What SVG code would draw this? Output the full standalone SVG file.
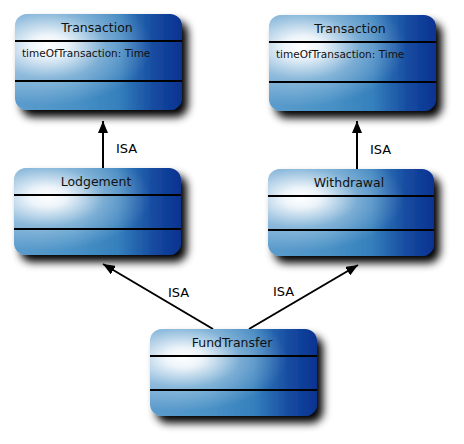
<svg xmlns="http://www.w3.org/2000/svg" width="464" height="444" viewBox="0 0 464 444">
<defs>
<linearGradient id="base" x1="0" y1="0" x2="1" y2="0">
<stop offset="0" stop-color="#5c9ccd"/>
<stop offset="0.35" stop-color="#4a92c6"/>
<stop offset="0.62" stop-color="#3580bd"/>
<stop offset="0.84" stop-color="#154aa0"/>
<stop offset="1" stop-color="#0a3290"/>
</linearGradient>
<radialGradient id="hl" cx="0.2" cy="0.33" r="0.62">
<stop offset="0" stop-color="#ffffff" stop-opacity="1"/>
<stop offset="0.18" stop-color="#ffffff" stop-opacity="0.9"/>
<stop offset="0.55" stop-color="#ffffff" stop-opacity="0.32"/>
<stop offset="1" stop-color="#ffffff" stop-opacity="0"/>
</radialGradient>
<filter id="sh" x="-20%" y="-20%" width="150%" height="160%">
<feGaussianBlur in="SourceAlpha" stdDeviation="4"/>
<feOffset dx="6" dy="7" result="b"/>
<feComponentTransfer><feFuncA type="linear" slope="1"/></feComponentTransfer>
<feMerge><feMergeNode/><feMergeNode in="SourceGraphic"/></feMerge>
</filter>
<marker id="arr" viewBox="0 0 12 10" refX="12" refY="5" markerWidth="12" markerHeight="10" markerUnits="userSpaceOnUse" orient="auto">
<path d="M0,0 L12,5 L0,10 z" fill="#000"/>
</marker>
</defs>
<style>
.bx{fill:url(#base)}
.hl{fill:url(#hl)}
.dv{stroke:#000;stroke-width:2}
.t{font-family:"DejaVu Sans",Verdana,sans-serif;font-size:12.5px;fill:#111;text-anchor:middle}
.a{font-family:"DejaVu Sans",Verdana,sans-serif;font-size:10.5px;fill:#111}
.l{font-family:"DejaVu Sans",Verdana,sans-serif;font-size:13px;fill:#000}
.c{stroke:#000;stroke-width:2;fill:none;marker-end:url(#arr)}
</style>
<rect width="464" height="444" fill="#fff"/>

<g id="connectors">
<line class="c" x1="103" y1="168" x2="103" y2="121"/>
<line class="c" x1="357" y1="169" x2="357" y2="121"/>
<line class="c" x1="213" y1="329" x2="103" y2="264"/>
<line class="c" x1="249" y1="329" x2="358" y2="265"/>
<text class="l" x="116" y="153">ISA</text>
<text class="l" x="370" y="154">ISA</text>
<text class="l" x="168" y="297">ISA</text>
<text class="l" x="273" y="296">ISA</text>
</g>

<g id="transaction1">
<g filter="url(#sh)"><rect class="bx" x="15" y="14" width="167" height="96" rx="12"/></g>
<rect class="hl" x="15" y="14" width="167" height="96" rx="12"/>
<line class="dv" x1="15" y1="41" x2="182" y2="41"/>
<line class="dv" x1="15" y1="81" x2="182" y2="81"/>
<text class="t" x="97" y="32">Transaction</text>
<text class="a" x="22" y="57">timeOfTransaction: Time</text>
</g>

<g id="transaction2">
<g filter="url(#sh)"><rect class="bx" x="269" y="15" width="167" height="96" rx="12"/></g>
<rect class="hl" x="269" y="15" width="167" height="96" rx="12"/>
<line class="dv" x1="269" y1="42" x2="436" y2="42"/>
<line class="dv" x1="269" y1="82" x2="436" y2="82"/>
<text class="t" x="350" y="33">Transaction</text>
<text class="a" x="276" y="58">timeOfTransaction: Time</text>
</g>

<g id="lodgement">
<g filter="url(#sh)"><rect class="bx" x="14" y="168" width="167" height="87" rx="12"/></g>
<rect class="hl" x="14" y="168" width="167" height="87" rx="12"/>
<line class="dv" x1="14" y1="195" x2="181" y2="195"/>
<line class="dv" x1="14" y1="229" x2="181" y2="229"/>
<text class="t" x="96" y="186">Lodgement</text>
</g>

<g id="withdrawal">
<g filter="url(#sh)"><rect class="bx" x="268" y="169" width="166" height="87" rx="12"/></g>
<rect class="hl" x="268" y="169" width="166" height="87" rx="12"/>
<line class="dv" x1="268" y1="196" x2="434" y2="196"/>
<line class="dv" x1="268" y1="230" x2="434" y2="230"/>
<text class="t" x="349" y="187">Withdrawal</text>
</g>

<g id="fundtransfer">
<g filter="url(#sh)"><rect class="bx" x="150" y="329" width="167" height="87" rx="12"/></g>
<rect class="hl" x="150" y="329" width="167" height="87" rx="12"/>
<line class="dv" x1="150" y1="356" x2="317" y2="356"/>
<line class="dv" x1="150" y1="390" x2="317" y2="390"/>
<text class="t" x="232" y="347">FundTransfer</text>
</g>
</svg>
